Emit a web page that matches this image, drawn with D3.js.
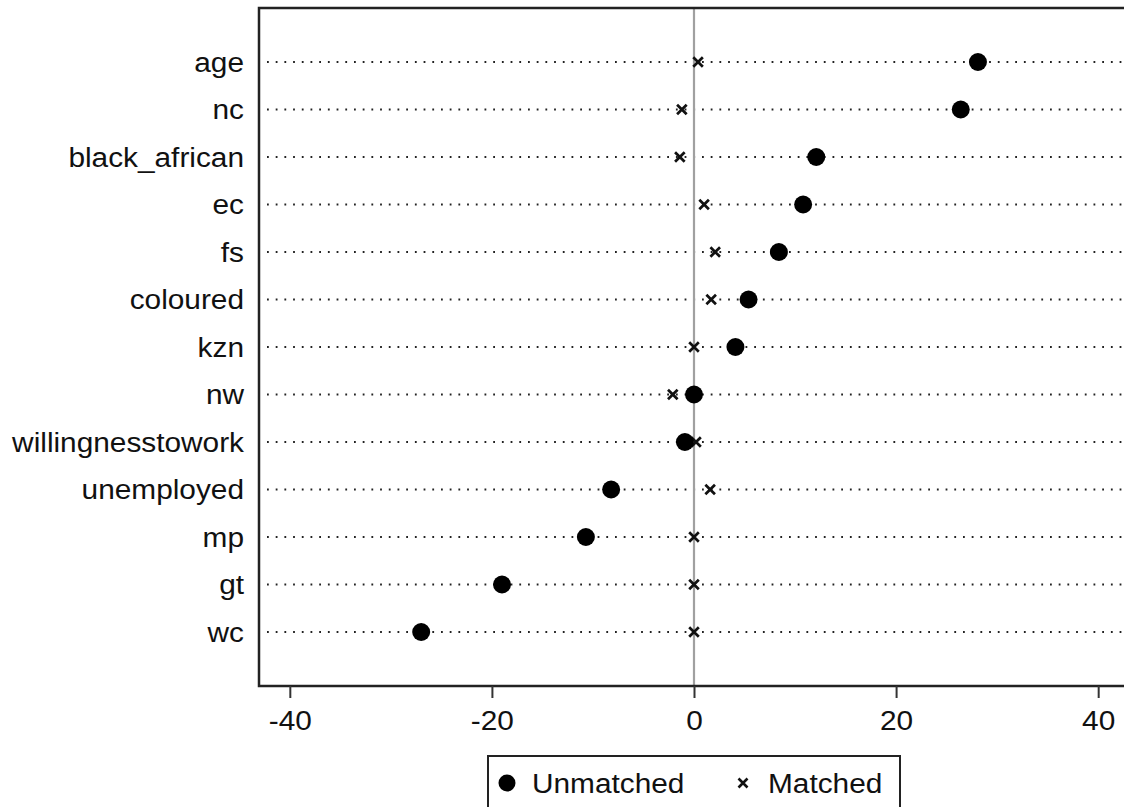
<!DOCTYPE html>
<html>
<head>
<meta charset="utf-8">
<script src="https://cdn.jsdelivr.net/npm/d3@7"></script>
<style>
  body { margin: 0; background: #fff; }
  text { font-family: "Liberation Sans", Arial, sans-serif; fill: #111; }
</style>
</head>
<body>
<svg id="chart" width="1124" height="807"></svg>
<script>
// ---------- data ---------- //
var variables = ["age", "nc", "black_african", "ec", "fs", "coloured", "kzn",
                 "nw", "willingnesstowork", "unemployed", "mp", "gt", "wc"];
var unmatched = [28.1, 26.4, 12.1, 10.8, 8.4, 5.4, 4.1, 0.0, -0.9, -8.2, -10.7, -19.0, -27.0];
var matched   = [0.4, -1.2, -1.4, 1.0, 2.1, 1.7, 0.0, -2.1, 0.2, 1.6, 0.0, 0.0, 0.0];
var xTicks = [-40, -20, 0, 20, 40];
var legendLabels = ["Unmatched", "Matched"];

// ---------- layout ---------- //
var plotLeft = 259, plotRight = 1129, plotTop = 8, plotBottom = 686;
var stretch = 1.065; // text in the original is a bit wider than Liberation Sans

var svg = d3.select("#chart");

var x = d3.scaleLinear()
    .domain([-43.05, 43.05])
    .range([plotLeft, plotRight]);

var y = d3.scalePoint()
    .domain(variables)
    .range([plotTop, plotBottom])
    .padding(1.137);

// dotted row lines
svg.append("g")
    .selectAll("line")
    .data(variables)
    .join("line")
    .attr("x1", plotLeft + 8)
    .attr("x2", plotRight)
    .attr("y1", function(d){ return y(d); })
    .attr("y2", function(d){ return y(d); })
    .attr("stroke", "#222")
    .attr("stroke-width", 2.2)
    .attr("stroke-dasharray", "1.8 6.9");

// zero line
svg.append("line")
    .attr("x1", x(0)).attr("x2", x(0))
    .attr("y1", plotTop).attr("y2", plotBottom)
    .attr("stroke", "#a0a0a0")
    .attr("stroke-width", 2.2);

// plot border
svg.append("rect")
    .attr("x", plotLeft)
    .attr("y", plotTop)
    .attr("width", plotRight - plotLeft)
    .attr("height", plotBottom - plotTop)
    .attr("fill", "none")
    .attr("stroke", "#222")
    .attr("stroke-width", 2.5);

// x axis
var xAxis = svg.append("g")
    .attr("transform", "translate(0," + plotBottom + ")")
    .call(d3.axisBottom(x).tickValues(xTicks).tickSize(12).tickPadding(12).tickFormat(d3.format("d")));

xAxis.select(".domain").remove();
xAxis.selectAll(".tick line")
    .attr("stroke", "#333")
    .attr("stroke-width", 2);
xAxis.selectAll(".tick text")
    .attr("font-size", "28px")
    .attr("font-family", "Liberation Sans, Arial, sans-serif")
    .attr("fill", "#111")
    .attr("transform", "scale(" + stretch + ",1)")
    .text(function(d){ return d < 0 ? "-" + Math.abs(d) : d; });

// y labels
svg.append("g")
    .selectAll("text")
    .data(variables)
    .join("text")
    .attr("transform", function(d){ return "translate(244," + y(d) + ") scale(" + stretch + ",1)"; })
    .attr("dy", "0.35em")
    .attr("text-anchor", "end")
    .attr("font-size", "28px")
    .text(function(d){ return d; });

// cross symbol path
function cross(cx, cy, s){
    return "M" + (cx - s) + "," + (cy - s) + "L" + (cx + s) + "," + (cy + s) +
           "M" + (cx - s) + "," + (cy + s) + "L" + (cx + s) + "," + (cy - s);
}

// matched markers
svg.append("g")
    .selectAll("path")
    .data(variables)
    .join("path")
    .attr("d", function(d, i){ return cross(x(matched[i]), y(d), 4.8); })
    .attr("stroke", "#111")
    .attr("stroke-width", 2.7)
    .attr("fill", "none");

// unmatched markers
svg.append("g")
    .selectAll("circle")
    .data(variables)
    .join("circle")
    .attr("cx", function(d, i){ return x(unmatched[i]); })
    .attr("cy", function(d){ return y(d); })
    .attr("r", 9)
    .attr("fill", "#000");

// ---------- legend ---------- //
var legend = svg.append("g");

legend.append("rect")
    .attr("x", 488)
    .attr("y", 756)
    .attr("width", 412)
    .attr("height", 70)
    .attr("fill", "#fff")
    .attr("stroke", "#222")
    .attr("stroke-width", 2);

legend.append("circle")
    .attr("cx", 507)
    .attr("cy", 783)
    .attr("r", 8.5)
    .attr("fill", "#000");

legend.append("text")
    .attr("transform", "translate(532,793) scale(" + stretch + ",1)")
    .attr("font-size", "28px")
    .text(legendLabels[0]);

legend.append("path")
    .attr("d", cross(743, 783, 4.5))
    .attr("stroke", "#111")
    .attr("stroke-width", 2.6);

legend.append("text")
    .attr("transform", "translate(768,793) scale(" + stretch + ",1)")
    .attr("font-size", "28px")
    .text(legendLabels[1]);
</script>
</body>
</html>
